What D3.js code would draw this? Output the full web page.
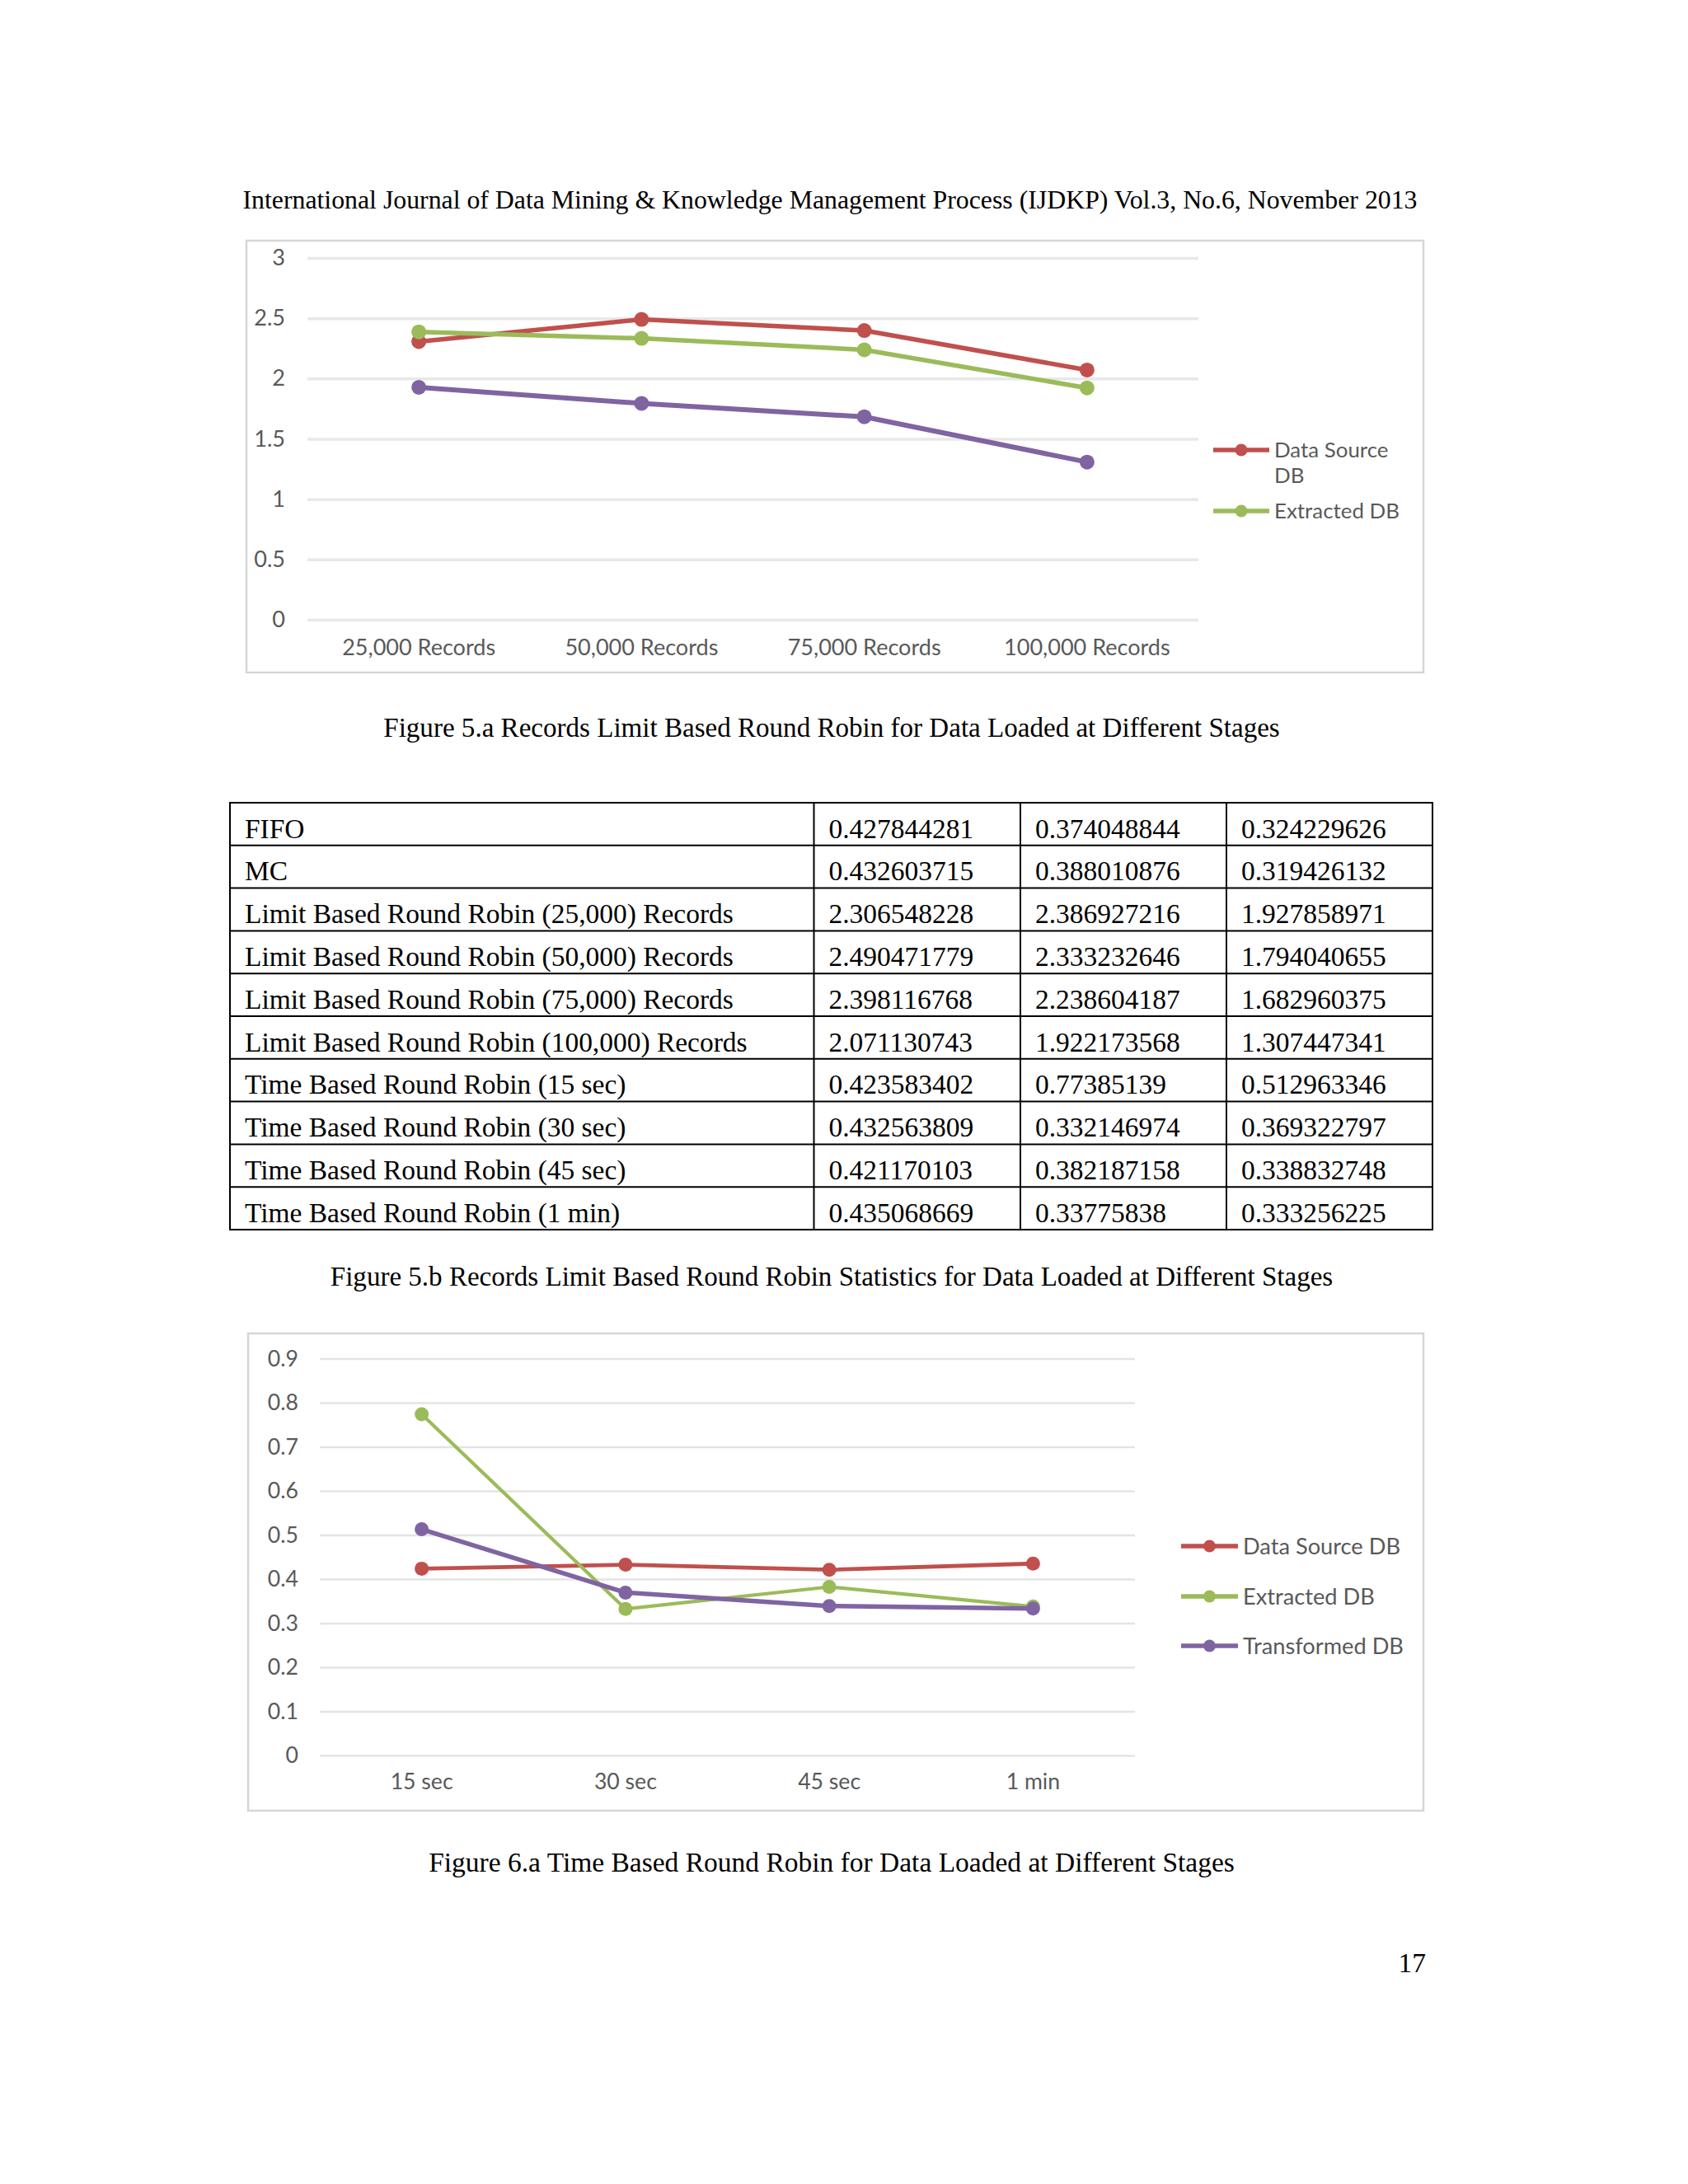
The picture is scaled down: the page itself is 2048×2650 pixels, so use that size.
<!DOCTYPE html>
<html><head><meta charset="utf-8">
<script src="https://cdn.jsdelivr.net/npm/d3@7"></script>
<style>body{margin:0;background:#fff}svg{display:block}</style>
</head><body>
<svg id="page" width="2048" height="2650"></svg>
<script>
// ---------- DATA ----------
const headerText = "International Journal of Data Mining & Knowledge Management Process (IJDKP) Vol.3, No.6, November 2013";
const seriesNames = ["Data Source DB", "Extracted DB", "Transformed DB"];
const seriesColors = ["#C0504D", "#9BBB59", "#8064A2"];

const recCategories = ["25,000 Records", "50,000 Records", "75,000 Records", "100,000 Records"];
const recDataSource = [2.306548228, 2.490471779, 2.398116768, 2.071130743];
const recExtracted = [2.386927216, 2.333232646, 2.238604187, 1.922173568];
const recTransformed = [1.927858971, 1.794040655, 1.682960375, 1.307447341];
const recTicks = [0, 0.5, 1, 1.5, 2, 2.5, 3];
const recTickLabels = ["0", "0.5", "1", "1.5", "2", "2.5", "3"];
const recLegend = [["Data Source", "DB"], ["Extracted DB"]];

const timeCategories = ["15 sec", "30 sec", "45 sec", "1 min"];
const timeDataSource = [0.423583402, 0.432563809, 0.421170103, 0.435068669];
const timeExtracted = [0.77385139, 0.332146974, 0.382187158, 0.33775838];
const timeTransformed = [0.512963346, 0.369322797, 0.338832748, 0.333256225];
const timeTicks = [0, 0.1, 0.2, 0.3, 0.4, 0.5, 0.6, 0.7, 0.8, 0.9];
const timeTickLabels = ["0", "0.1", "0.2", "0.3", "0.4", "0.5", "0.6", "0.7", "0.8", "0.9"];

const tableLabels = ["FIFO", "MC",
  "Limit Based Round Robin (25,000) Records", "Limit Based Round Robin (50,000) Records",
  "Limit Based Round Robin (75,000) Records", "Limit Based Round Robin (100,000) Records",
  "Time Based Round Robin (15 sec)", "Time Based Round Robin (30 sec)",
  "Time Based Round Robin (45 sec)", "Time Based Round Robin (1 min)"];
const tableCol1 = ["0.427844281", "0.432603715", "2.306548228", "2.490471779", "2.398116768", "2.071130743", "0.423583402", "0.432563809", "0.421170103", "0.435068669"];
const tableCol2 = ["0.374048844", "0.388010876", "2.386927216", "2.333232646", "2.238604187", "1.922173568", "0.77385139", "0.332146974", "0.382187158", "0.33775838"];
const tableCol3 = ["0.324229626", "0.319426132", "1.927858971", "1.794040655", "1.682960375", "1.307447341", "0.512963346", "0.369322797", "0.338832748", "0.333256225"];

const caption5a = "Figure 5.a Records Limit Based Round Robin for Data Loaded at Different Stages";
const caption5b = "Figure 5.b Records Limit Based Round Robin Statistics for Data Loaded at Different Stages";
const caption6a = "Figure 6.a Time Based Round Robin for Data Loaded at Different Stages";
const pageNumber = "17";

// ---------- HELPERS ----------
const svg = d3.select("#page");
const SERIF = "'Liberation Serif','Times New Roman',serif";
const SANS = "Lato,'Open Sans',sans-serif";
const GREY = "#595959";

function fitSize(text, family, target) {
  const t = svg.append("text").attr("font-family", family).attr("font-size", 100).text(text);
  const w = t.node().getComputedTextLength();
  t.remove();
  return 100 * target / w;
}

function serifText(txt, x, y, target, anchor) {
  const fs = fitSize(txt, SERIF, target);
  svg.append("text").attr("x", x).attr("y", y).attr("font-family", SERIF)
    .attr("font-size", fs).attr("text-anchor", anchor || "middle").attr("fill", "#000").text(txt);
}

function lineChart(cfg) {
  const g = svg.append("g");
  g.append("rect").attr("x", cfg.box[0]).attr("y", cfg.box[1]).attr("width", cfg.box[2]).attr("height", cfg.box[3])
    .attr("fill", "#fff").attr("stroke", "#d6d6d6").attr("stroke-width", 2.5);
  const x = d3.scaleBand().domain(cfg.categories).range(cfg.xRange);
  const y = d3.scaleLinear().domain(cfg.yDomain).range(cfg.yRange);
  const fsAxis = fitSize(cfg.categories[0], SANS, cfg.catWidth);

  const yAxis = d3.axisLeft(y).tickValues(cfg.ticks)
    .tickFormat((d, i) => cfg.tickLabels[i])
    .tickSize(-(cfg.xRange[1] - cfg.xRange[0])).tickPadding(cfg.yPad);
  const ya = g.append("g").attr("transform", `translate(${cfg.xRange[0]},0)`).call(yAxis);
  ya.select(".domain").remove();
  ya.selectAll(".tick line").attr("stroke", cfg.gridColor).attr("stroke-width", cfg.gridW);
  ya.selectAll(".tick text").attr("font-family", SANS).attr("font-size", fsAxis).attr("fill", GREY);

  const xAxis = d3.axisBottom(x).tickSize(0).tickPadding(0);
  const xa = g.append("g").attr("transform", `translate(0,${cfg.xLabelY})`).call(xAxis);
  xa.select(".domain").remove();
  xa.selectAll(".tick text").attr("font-family", SANS).attr("font-size", fsAxis).attr("fill", GREY)
    .attr("y", 0).attr("dy", "0.35em");

  const line = d3.line().x((d, i) => x(cfg.categories[i]) + x.bandwidth() / 2).y(d => y(d));
  cfg.series.forEach((vals, si) => {
    g.append("path").datum(vals).attr("d", line).attr("fill", "none")
      .attr("stroke", seriesColors[si]).attr("stroke-width", cfg.lineW[si]).attr("stroke-linejoin", "round");
    g.selectAll(null).data(vals).enter().append("circle")
      .attr("cx", (d, i) => x(cfg.categories[i]) + x.bandwidth() / 2).attr("cy", d => y(d))
      .attr("r", cfg.markR).attr("fill", seriesColors[si]);
  });

  const fsLeg = fitSize(cfg.legendFitText, SANS, cfg.legendFitWidth);
  cfg.legend.forEach((lines, i) => {
    const ly = cfg.legendY[i];
    g.append("line").attr("x1", cfg.legendX[0]).attr("x2", cfg.legendX[1]).attr("y1", ly).attr("y2", ly)
      .attr("stroke", seriesColors[i]).attr("stroke-width", 5.5);
    g.append("circle").attr("cx", (cfg.legendX[0] + cfg.legendX[1]) / 2).attr("cy", ly).attr("r", 7.5)
      .attr("fill", seriesColors[i]);
    const t = g.append("text").attr("x", cfg.legendX[1] + 6).attr("y", ly)
      .attr("font-family", SANS).attr("font-size", fsLeg).attr("fill", GREY);
    lines.forEach((s, k) => t.append("tspan").attr("x", cfg.legendX[1] + 6).attr("dy", k === 0 ? "0.35em" : cfg.legendLineGap).text(s));
  });
}

// ---------- HEADER ----------
serifText(headerText, 1007, 253, 1426);

// ---------- CHART 5.a ----------
lineChart({
  box: [299, 292, 1428, 524],
  categories: recCategories,
  series: [recDataSource, recExtracted, recTransformed],
  xRange: [373, 1454], yDomain: [0, 3], yRange: [752, 313],
  ticks: recTicks, tickLabels: recTickLabels, yPad: 27,
  gridColor: "#e8e8e8", gridW: 3.5,
  catWidth: 186, xLabelY: 786,
  lineW: [5.5, 5.5, 6], markR: 9,
  legend: recLegend, legendY: [546, 620], legendX: [1472, 1540],
  legendFitText: "Extracted DB", legendFitWidth: 152, legendLineGap: 31
});
serifText(caption5a, 1009, 894, 1088);

// ---------- TABLE ----------
const colX = [279, 987.5, 1238, 1488, 1738];
const rowTop = 974, rowH = 51.8;
const tg = svg.append("g");
const rows = tableLabels.map((l, i) => [l, tableCol1[i], tableCol2[i], tableCol3[i]]);
const tfs = fitSize(tableLabels[2], SERIF, 593);
rows.forEach((r, i) => {
  r.forEach((c, j) => {
    tg.append("text").attr("x", colX[j] + 18).attr("y", rowTop + i * rowH + 42.5)
      .attr("font-family", SERIF).attr("font-size", tfs).attr("fill", "#000").text(c);
  });
});
d3.range(rows.length + 1).forEach(i => {
  tg.append("line").attr("x1", colX[0] - 1).attr("x2", colX[4] + 1)
    .attr("y1", rowTop + i * rowH).attr("y2", rowTop + i * rowH).attr("stroke", "#000").attr("stroke-width", 2);
});
colX.forEach(cx => {
  tg.append("line").attr("x1", cx).attr("x2", cx).attr("y1", rowTop).attr("y2", rowTop + rows.length * rowH)
    .attr("stroke", "#000").attr("stroke-width", 2);
});
serifText(caption5b, 1009, 1560, 1217);

// ---------- CHART 6.a ----------
lineChart({
  box: [301, 1618, 1426, 579],
  categories: timeCategories,
  series: [timeDataSource, timeExtracted, timeTransformed],
  xRange: [388, 1377], yDomain: [0, 0.9], yRange: [2130, 1648.5],
  ticks: timeTicks, tickLabels: timeTickLabels, yPad: 26,
  gridColor: "#e4e4e4", gridW: 2.5,
  catWidth: 76, xLabelY: 2162,
  lineW: [4.8, 4.2, 5.5], markR: 8.5,
  legend: seriesNames.map(s => [s]), legendY: [1876, 1937, 1997], legendX: [1433, 1502],
  legendFitText: "Transformed DB", legendFitWidth: 195, legendLineGap: 30
});
serifText(caption6a, 1009, 2271, 978);

// ---------- PAGE NUMBER ----------
svg.append("text").attr("x", 1730).attr("y", 2393).attr("text-anchor", "end")
  .attr("font-family", SERIF).attr("font-size", 33.5).attr("fill", "#000").text(pageNumber);
</script>
</body></html>
